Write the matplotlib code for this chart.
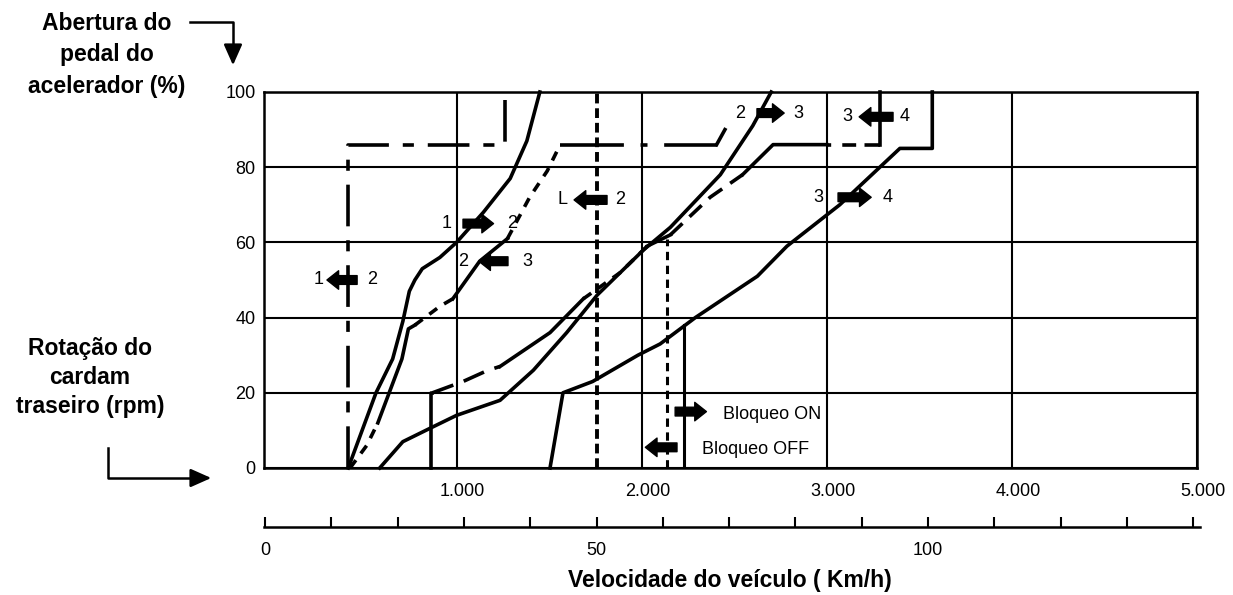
import matplotlib.pyplot as plt
from matplotlib.lines import Line2D
from matplotlib.patches import FancyArrowPatch
from matplotlib.transforms import ScaledTranslation

plt.rcParams['font.family'] = ['Liberation Sans', 'DejaVu Sans']
plt.rcParams['lines.scale_dashes'] = False

# eixos
rpm_ticks = [1000, 2000, 3000, 4000, 5000]
rpm_labels = ['1.000', '2.000', '3.000', '4.000', '5.000']
pedal_ticks = [0, 20, 40, 60, 80, 100]
kmh_major = [0, 50, 100]
kmh_minor = list(range(0, 150, 10))

# curvas de troca (rpm do cardam, % do pedal)
down21_x = [415, 415, 1260, 1260]
down21_y = [0, 86, 86, 100]
up12_x = [415, 565, 655, 710, 745, 775, 815, 910, 1000, 1145, 1290, 1380, 1450]
up12_y = [0, 20, 29, 39, 47, 50, 53, 56, 60, 68, 77, 87, 100]
down32_x = [425, 515, 575, 705, 740, 775, 910, 980, 1125, 1275, 1395, 1490, 1560, 2405, 2450]
down32_y = [0, 6, 12, 29, 37, 38, 43, 45, 55, 61, 72, 79, 86, 86, 90]
up23_x = [585, 710, 875, 1000, 1235, 1415, 1595, 1760, 2010, 2155, 2425, 2600, 2700]
up23_y = [0, 7, 11, 14, 18, 26, 36, 46, 58, 64, 78, 91, 100]
down43_x = [862, 862, 870, 1035, 1170, 1235, 1505, 1685, 1885, 2030, 2155, 2370, 2545, 2710, 3000, 3290, 3290]
down43_y = [0, 20, 20, 23, 26, 27, 36, 45, 52, 59, 62, 72, 78, 86, 86, 86, 100]
up34_x = [1505, 1575, 1735, 1980, 2100, 2290, 2625, 2785, 3070, 3395, 3570, 3570]
up34_y = [0, 20, 23, 30, 33, 40, 51, 59, 70, 85, 85, 100]
L2_rpm = 1760
lock_off_rpm, lock_off_top = 2135, 61
lock_on_rpm, lock_on_top = 2230, 38

W, H = 1233, 595
fig = plt.figure(figsize=(W / 100, H / 100), dpi=100)
ax = fig.add_axes([264 / W, 1 - 468 / H, 933 / W, 376 / H])
ax.set_xlim(-40, 5000)
ax.set_ylim(0, 100)
ax.set_xticks(rpm_ticks)
ax.set_xticklabels(rpm_labels)
ax.set_yticks(pedal_ticks)
ax.grid(color='k', lw=1.5)
ax.tick_params(length=0, labelsize=13)
ax.tick_params(axis='x', pad=11)
ax.tick_params(axis='y', pad=6)
for s in ax.spines.values():
    s.set_linewidth(1.8)
for lbl in ax.get_xticklabels():
    lbl.set_transform(lbl.get_transform() + ScaledTranslation(0.06, 0, fig.dpi_scale_trans))

LW = 2.6
DASHDOT = (0, (30, 10, 8, 10))
SHORT = (0, (7, 6))


def seg(xs, ys, i, j, ls='-'):
    ax.plot(xs[i:j + 1], ys[i:j + 1], color='k', lw=LW, ls=ls,
            solid_joinstyle='round', clip_on=False)


# 2 -> 1
seg(down21_x, down21_y, 0, 3, DASHDOT)
# 1 -> 2
seg(up12_x, up12_y, 0, len(up12_x) - 1)
# 3 -> 2
seg(down32_x, down32_y, 0, 2, SHORT)
seg(down32_x, down32_y, 2, 5)
seg(down32_x, down32_y, 5, 7, SHORT)
seg(down32_x, down32_y, 7, 9)
seg(down32_x, down32_y, 9, 12, SHORT)
seg(down32_x, down32_y, 12, 13, (0, (46, 12, 5, 12)))
seg(down32_x, down32_y, 13, 14)
# 2 -> 3
seg(up23_x, up23_y, 0, len(up23_x) - 1)
# 4 -> 3
for i, j, ls in [(0, 2, '-'), (2, 5, (0, (16, 8))), (5, 7, '-'), (7, 9, SHORT),
                 (9, 10, '-'), (10, 12, (0, (12, 7))), (12, 14, '-'),
                 (14, 15, (0, (3, 8, 10, 6, 16, 0))), (15, 16, '-')]:
    seg(down43_x, down43_y, i, j, ls)
# 3 -> 4
seg(up34_x, up34_y, 0, len(up34_x) - 1)

# L <- 2 e bloqueio
ax.plot([L2_rpm, L2_rpm], [0, 100], color='k', lw=2.8, ls=(0, (7, 3.5)))
ax.plot([lock_off_rpm, lock_off_rpm], [0, lock_off_top], color='k', lw=2.2, ls=(0, (6, 4)))
ax.plot([lock_on_rpm, lock_on_rpm], [0, lock_on_top], color='k', lw=2.2)


def block_arrow(x_from, x_to, y):
    ax.annotate('', xy=(x_to, y), xytext=(x_from, y),
                arrowprops=dict(arrowstyle='simple,head_length=0.6,head_width=0.95,tail_width=0.45',
                                color='k', mutation_scale=14, shrinkA=0, shrinkB=0))


def shift_label(a, b, y, xa, xb, x_from, x_to):
    ax.text(xa, y, a, fontsize=13, ha='center', va='center')
    ax.text(xb, y, b, fontsize=13, ha='center', va='center')
    block_arrow(x_from, x_to, y)


shift_label('1', '2', 50, 253, 545, 463, 300)
shift_label('1', '2', 65, 949, 1300, 1035, 1200)
shift_label('2', '3', 55, 1035, 1381, 1278, 1120)
shift_label('L', '2', 71.3, 1575, 1884, 1813, 1635)
shift_label('2', '3', 94.4, 2531, 2845, 2623, 2770)
shift_label('3', '4', 93.4, 3109, 3423, 3358, 3175)
shift_label('3', '4', 72, 2953, 3330, 3061, 3240)

block_arrow(2181, 2350, 15)
ax.text(2439, 14.2, 'Bloqueo ON', fontsize=13, ha='left', va='center')
block_arrow(2191, 2020, 5.5)
ax.text(2326, 4.8, 'Bloqueo OFF', fontsize=13, ha='left', va='center')

# eixo de velocidade
kx = fig.add_axes([264 / W, 1 - 527 / H, 936 / W, 1e-4])
kx.set_xlim(-1 / 6.63, (1200 - 265) / 6.63)
for s in ['left', 'right', 'top']:
    kx.spines[s].set_visible(False)
kx.spines['bottom'].set_linewidth(1.8)
kx.set_yticks([])
kx.set_xticks(kmh_major)
kx.set_xticks(kmh_minor, minor=True)
kx.tick_params(axis='x', which='both', direction='in', length=7, width=1.5,
               labelsize=13, pad=11)


def fp(x, y):
    return x / W, 1 - y / H


fig.text(*fp(730, 580), 'Velocidade do veículo ( Km/h)', fontsize=16.5,
         fontweight='bold', ha='center', va='center')
for txt, y in [('Abertura do', 24), ('pedal do', 55), ('acelerador (%)', 86)]:
    fig.text(*fp(107, y), txt, fontsize=16.5, fontweight='bold', ha='center', va='center')
for txt, y in [('Rotação do', 348), ('cardam', 378), ('traseiro (rpm)', 406)]:
    fig.text(*fp(90, y), txt, fontsize=16.5, fontweight='bold', ha='center', va='center')

fig.add_artist(Line2D([190 / W, 233 / W, 233 / W], [1 - 22 / H, 1 - 22 / H, 1 - 52 / H],
                      transform=fig.transFigure, color='k', lw=1.8))
fig.add_artist(FancyArrowPatch(fp(233, 48), fp(233, 68), transform=fig.transFigure,
                               arrowstyle='-|>,head_length=0.9,head_width=0.4',
                               mutation_scale=14, color='k', lw=1.8))
fig.add_artist(Line2D([108 / W, 108 / W, 200 / W], [1 - 448 / H, 1 - 478 / H, 1 - 478 / H],
                      transform=fig.transFigure, color='k', lw=1.8))
fig.add_artist(FancyArrowPatch(fp(195, 478), fp(214, 478), transform=fig.transFigure,
                               arrowstyle='-|>,head_length=0.9,head_width=0.4',
                               mutation_scale=14, color='k', lw=1.8))

fig.savefig('out.png', dpi=100)
